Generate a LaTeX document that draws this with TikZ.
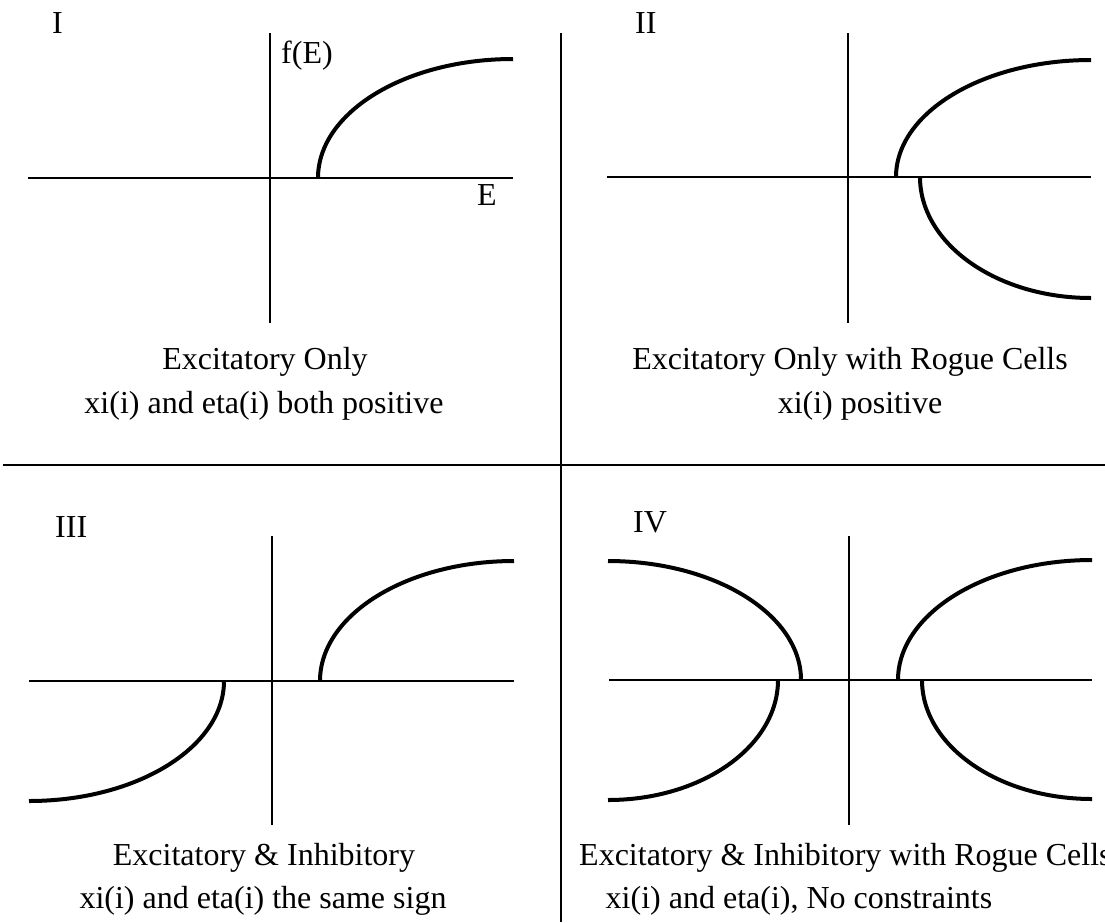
\documentclass[tikz,border=0pt]{standalone}
\usepackage{fontspec}
\setmainfont{Liberation Serif}
\usetikzlibrary{calc}
\tikzset{
  axisline/.style={line width=1.6pt, line cap=butt},
  divider/.style={line width=2.6pt},
  curveline/.style={line width=4pt, line cap=butt},
  lbltxt/.style={inner sep=0pt, anchor=base west, font=\fontsize{32}{38}\selectfont},
  captxt/.style={inner sep=0pt, anchor=base, font=\fontsize{32}{38}\selectfont},
}
\newcommand\qcurve[3]{%
  \coordinate (#1s) at (#2);
  \coordinate (#1e) at (#3);
  \draw[curveline] (#1s) .. controls ($(#1s)!0.552!(#1s |- #1e)$) and ($(#1e)!0.552!(#1s |- #1e)$) .. (#1e);}
\begin{document}
\begin{tikzpicture}[x=1pt,y=-1pt]
\path[use as bounding box] (0,0) rectangle (1105,922);
% dividers
\coordinate (vdT) at (561,33);
\coordinate (vdB) at (561,922);
\coordinate (hdL) at (3,465);
\coordinate (hdR) at (1105,465);
\draw[divider] (vdT) -- (vdB);
\draw[divider] (hdL) -- (hdR);
% Panel I axes
\coordinate (aIy1) at (270,33);  \coordinate (aIy2) at (270,323);
\coordinate (aIx1) at (28,178);  \coordinate (aIx2) at (513,178);
\draw[axisline] (aIy1) -- (aIy2);
\draw[axisline] (aIx1) -- (aIx2);
% Panel II axes
\coordinate (aIIy1) at (848,33);  \coordinate (aIIy2) at (848,323);
\coordinate (aIIx1) at (607,177); \coordinate (aIIx2) at (1091,177);
\draw[axisline] (aIIy1) -- (aIIy2);
\draw[axisline] (aIIx1) -- (aIIx2);
% Panel III axes
\coordinate (aIIIy1) at (272,536);  \coordinate (aIIIy2) at (272,825);
\coordinate (aIIIx1) at (29,681);   \coordinate (aIIIx2) at (514,681);
\draw[axisline] (aIIIy1) -- (aIIIy2);
\draw[axisline] (aIIIx1) -- (aIIIx2);
% Panel IV axes
\coordinate (aIVy1) at (849,536);  \coordinate (aIVy2) at (849,825);
\coordinate (aIVx1) at (609,680);  \coordinate (aIVx2) at (1092,680);
\draw[axisline] (aIVy1) -- (aIVy2);
\draw[axisline] (aIVx1) -- (aIVx2);
% curves
\qcurve{cI}{318,178}{513,59}
\qcurve{cIIa}{896,177}{1091,60}
\qcurve{cIIb}{920,177}{1091,298}
\qcurve{cIIIa}{320,681}{514,561}
\qcurve{cIIIb}{224,681}{29,801}
\qcurve{cIVa}{898,680}{1092,560}
\qcurve{cIVb}{922,680}{1092,799}
\qcurve{cIVc}{801,680}{608,561}
\qcurve{cIVd}{778,680}{608,800}
% labels
\node[lbltxt] (lI) at (52,33) {I};
\node[lbltxt] (lfE) at (281,63) {f(E)};
\node[lbltxt] (lE) at (477,205) {E};
\node[lbltxt] (lII) at (635,33) {II};
\node[lbltxt] (lIII) at (55,537) {III};
\node[lbltxt] (lIV) at (633,532) {IV};
% captions
\node[captxt] (tI1) at (265,369) {Excitatory Only};
\node[captxt] (tI2) at (264,413) {xi(i) and eta(i) both positive};
\node[captxt] (tII1) at (850,369) {Excitatory Only with Rogue Cells};
\node[captxt] (tII2) at (860,413) {xi(i) positive};
\node[captxt] (tIII1) at (264,865) {Excitatory \& Inhibitory};
\node[captxt] (tIII2) at (263,908) {xi(i) and eta(i) the same sign};
\node[lbltxt] (tIV1) at (579,865) {Excitatory \& Inhibitory with Rogue Cells};
\node[captxt] (tIV2) at (799,908) {xi(i) and eta(i), No constraints};
\end{tikzpicture}
\end{document}
